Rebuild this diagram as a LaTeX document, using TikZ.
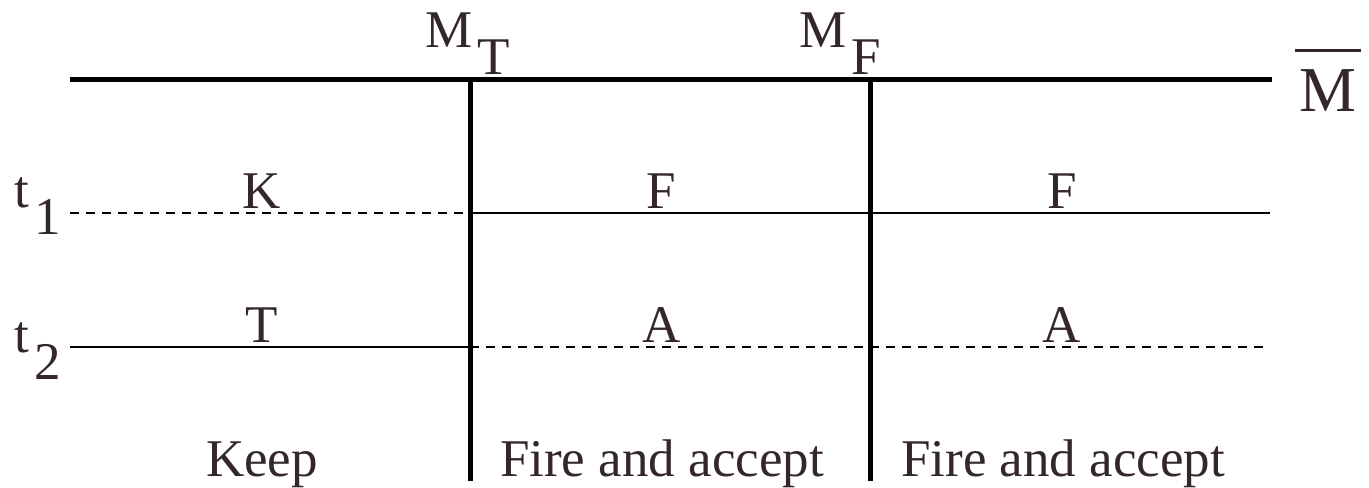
\documentclass[tikz,border=0pt]{standalone}
\usepackage{fontspec}
\setmainfont{Liberation Serif}
\usetikzlibrary{positioning}
\definecolor{inkcol}{RGB}{52,38,46}
\newcommand{\dropsub}[2]{#1\hspace{0.1em}\raisebox{-0.52em}{#2}}
\newcommand{\barred}[1]{\makebox[0pt][l]{\hspace{-2pt}\raisebox{29.5pt}{\rule{33pt}{1.5pt}}}#1}

\begin{document}
\begin{tikzpicture}[x=0.5pt,y=-0.5pt,
    lbl/.style={text=inkcol,font=\fontsize{26.5}{30}\selectfont,inner sep=0pt},
    heavyline/.style={line width=2.5pt},
    rowline/.style={line width=1pt},
    rowdash/.style={line width=1pt,dash pattern=on 4.5pt off 3.5pt}]
    \useasboundingbox (0,0) rectangle (1369,487);
    % grid points
    \coordinate (topl) at (70,79);
    \coordinate (topr) at (1272,79);
    \coordinate (mt) at (470,79);
    \coordinate (mf) at (870,79);
    \coordinate (mtb) at (470,481);
    \coordinate (mfb) at (870,481);
    \coordinate (r1l) at (70,213);
    \coordinate (r1t) at (470,213);
    \coordinate (r1r) at (1270,213);
    \coordinate (r2l) at (70,347);
    \coordinate (r2t) at (470,347);
    \coordinate (r2r) at (1265,347);
    % axis and dividers
    \draw[heavyline] (topl) -- (topr);
    \draw[heavyline] (mt) -- (mtb);
    \draw[heavyline] (mf) -- (mfb);
    % rows
    \draw[rowdash] (r1l) -- (r1t);
    \draw[rowline] (r1t) -- (r1r);
    \draw[rowline] (r2l) -- (r2t);
    \draw[rowdash] (r2t) -- (r2r);
    % top labels
    \node[lbl,anchor=base west] (mtlbl) at (425,47) {\dropsub{M}{T}};
    \node[lbl,anchor=base west] (mflbl) at (799,47) {\dropsub{M}{F}};
    \node[lbl,anchor=base west,font=\fontsize{32}{36}\selectfont] (mbar) at (1299,111) {\barred{M}};
    % row labels
    \node[lbl,anchor=base west] (t1) at (14,207) {\dropsub{t}{1}};
    \node[lbl,anchor=base west] (t2) at (14,352) {\dropsub{t}{2}};
    % cell entries
    \node[lbl,anchor=base] (k1) at (262,208) {K};
    \node[lbl,anchor=base] (f1) at (661,208) {F};
    \node[lbl,anchor=base] (f2) at (1062,208) {F};
    \node[lbl,anchor=base] (tt) at (262,342) {T};
    \node[lbl,anchor=base] (a1) at (662,342) {A};
    \node[lbl,anchor=base] (a2) at (1062,342) {A};
    % column captions
    \node[lbl,anchor=base] (keep) at (262,476) {Keep};
    \node[lbl,anchor=base] (fire1) at (662,476) {Fire and accept};
    \node[lbl,anchor=base] (fire2) at (1063,476) {Fire and accept};
\end{tikzpicture}
\end{document}
